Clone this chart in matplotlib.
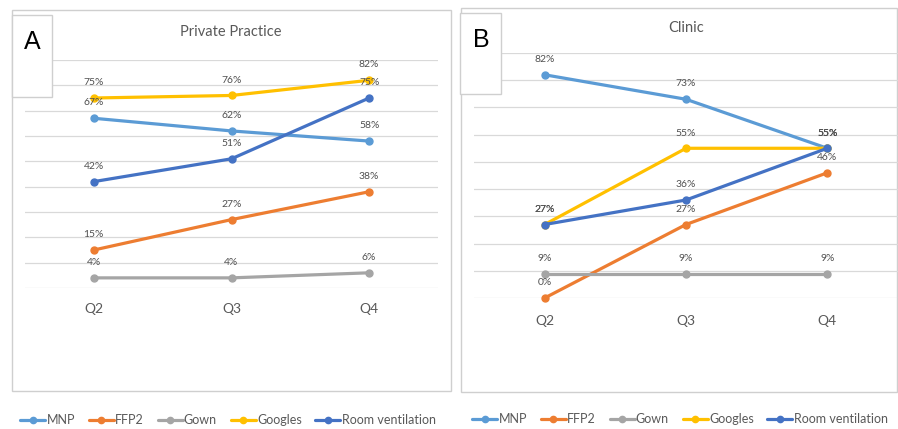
import matplotlib
matplotlib.use("Agg")
import matplotlib.pyplot as plt
from matplotlib.patches import Rectangle

plt.rcParams['font.family'] = ['Lato', 'DejaVu Sans']

quarters = ["Q2", "Q3", "Q4"]
series_names = ["MNP", "FFP2", "Gown", "Googles", "Room ventilation"]
colors = ["#5B9BD5", "#ED7D31", "#A5A5A5", "#FFC000", "#4472C4"]

private_mnp = [67, 62, 58]
private_ffp2 = [15, 27, 38]
private_gown = [4, 4, 6]
private_googles = [75, 76, 82]
private_vent = [42, 51, 75]

clinic_mnp = [82, 73, 55]
clinic_ffp2 = [0, 27, 46]
clinic_gown = [9, 9, 9]
clinic_googles = [27, 55, 55]
clinic_vent = [27, 36, 55]

W, H = 898, 429
fig = plt.figure(figsize=(W / 100, H / 100), dpi=100)
fig.patch.set_facecolor("white")


def fx(x):
    return x / W


def fy(y):
    return 1 - y / H


def box(x0, y0, x1, y1, z=0, fill="none"):
    r = Rectangle((fx(x0), fy(y1)), fx(x1) - fx(x0), fy(y0) - fy(y1),
                  transform=fig.transFigure, facecolor=fill,
                  edgecolor="#CFCFCF", linewidth=1.0, zorder=z)
    fig.patches.append(r)


# panel frames
box(12, 10, 451, 391)
box(461, 8, 897, 392)


def panel(rect, title, title_xy, data, legend_xy, tick_pad):
    ax = fig.add_axes(rect, zorder=2)
    ax.set_facecolor("none")
    x = list(range(len(quarters)))
    for name, vals, c in zip(series_names, data, colors):
        ax.plot(x, vals, color=c, lw=2.3, marker="o", ms=5, label=name,
                solid_capstyle="round", zorder=3, clip_on=False)
        for xi, v in zip(x, vals):
            ax.annotate(f"{v}%", (xi, v), xytext=(0, 11),
                        textcoords="offset points", ha="center", va="center",
                        fontsize=7.5, color="#505050", zorder=4)
    ax.set_xlim(-0.5, 2.5)
    ax.set_ylim(0, 90)
    ax.set_yticks(range(0, 91, 10))
    ax.set_yticklabels([])
    ax.grid(axis="y", color="#D9D9D9", lw=0.9)
    ax.set_axisbelow(True)
    ax.set_xticks(x)
    ax.set_xticklabels(quarters, fontsize=10, color="#595959")
    ax.tick_params(length=0, pad=tick_pad)
    for s in ax.spines.values():
        s.set_visible(False)
    fig.text(fx(title_xy[0]), fy(title_xy[1]), title, ha="center",
             va="center", fontsize=10.5, color="#595959")
    ax.legend(loc="center", bbox_to_anchor=(fx(legend_xy[0]), fy(legend_xy[1])),
              bbox_transform=fig.transFigure, ncol=5, frameon=False,
              fontsize=9, handlelength=2.0, handletextpad=0.1,
              columnspacing=1.1, labelcolor="#595959", markerscale=0.9)
    return ax


panel([fx(25), fy(288), fx(438) - fx(25), fy(60) - fy(288)],
      "Private Practice", (231, 32),
      [private_mnp, private_ffp2, private_gown, private_googles, private_vent],
      (228, 420), 11)

panel([fx(474), fy(298), fx(898) - fx(474), fy(53) - fy(298)],
      "Clinic", (686, 28),
      [clinic_mnp, clinic_ffp2, clinic_gown, clinic_googles, clinic_vent],
      (680, 419), 12)

# letter boxes
box(12, 15, 52, 97, z=5, fill="white")
box(460, 13, 501, 94, z=5, fill="white")
fig.text(fx(32), fy(42), "A", ha="center", va="center", fontsize=18,
         family=["Liberation Sans", "DejaVu Sans"], color="black", zorder=6)
fig.text(fx(481), fy(40), "B", ha="center", va="center", fontsize=18,
         family=["Liberation Sans", "DejaVu Sans"], color="black", zorder=6)

fig.savefig("out.png", dpi=100, facecolor="white")
